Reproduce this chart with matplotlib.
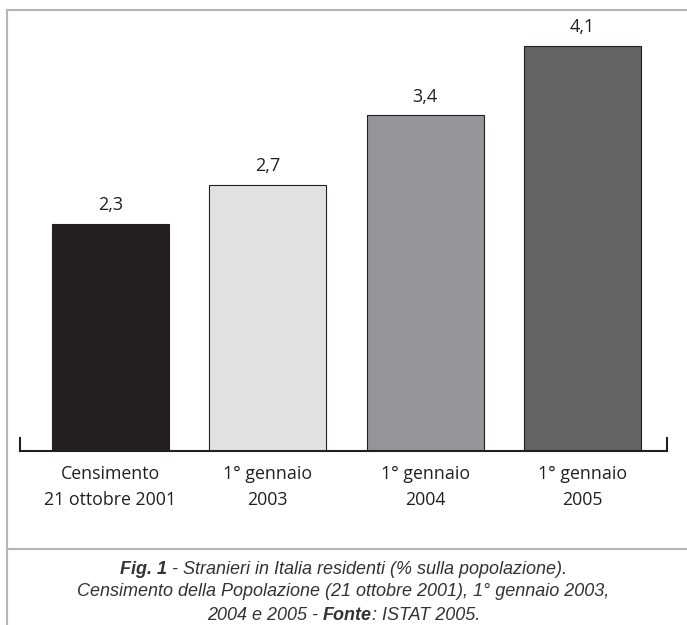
import matplotlib.pyplot as plt
from matplotlib.lines import Line2D

# Stranieri residenti in Italia, % sulla popolazione
categorie = ['Censimento\n21 ottobre 2001', '1° gennaio\n2003', '1° gennaio\n2004', '1° gennaio\n2005']
valori = [2.3, 2.7, 3.4, 4.1]
etichette = ['2,3', '2,7', '3,4', '4,1']
colori = ['#231f20', '#e1e2e3', '#939598', '#636466']

# caption lines as (text, bold) runs
didascalia = [
    [('Fig. 1', True), (' - Stranieri in Italia residenti (% sulla popolazione).', False)],
    [('Censimento della Popolazione (21 ottobre 2001), 1° gennaio 2003,', False)],
    [('2004 e 2005 - ', False), ('Fonte', True), (': ISTAT 2005.', False)],
]

W, H = 687, 625
fig = plt.figure(figsize=(W / 100, H / 100), dpi=100)

# axes placed in pixel terms: baseline at y=451, top at y=10
ax = fig.add_axes([20 / W, (H - 451) / H, 647 / W, 441 / H])
x = range(len(valori))
ax.bar(x, valori, width=0.744, color=colori, edgecolor='#231f20', linewidth=0.8)

for i, (v, t) in enumerate(zip(valori, etichette)):
    ax.text(i, v + 0.1, t, ha='center', va='bottom', fontsize=13,
            family='Open Sans', color='#231f20')

ax.set_xlim(-0.575, 3.538)
ax.set_ylim(0, 4.468)
ax.set_yticks([])
ax.set_xticks(list(x))
ax.set_xticklabels(categorie, family='Open Sans', fontsize=12.8, color='#231f20', linespacing=1.55)
ax.tick_params(axis='x', length=0, pad=10)
ax.spines['top'].set_visible(False)
for s in ['bottom', 'left', 'right']:
    ax.spines[s].set_color('#231f20')
    ax.spines[s].set_linewidth(1.5)
ax.spines['left'].set_bounds(0, 0.13)
ax.spines['right'].set_bounds(0, 0.13)

# gray frame around the figure
grigio = '#b5b5b5'
fig.add_artist(Line2D([7 / W, 1], [1 - 10 / H, 1 - 10 / H], color=grigio, lw=1.5))
fig.add_artist(Line2D([7 / W, 7 / W], [0, 1 - 10 / H], color=grigio, lw=1.5))
fig.add_artist(Line2D([7 / W, 1], [1 - 549 / H, 1 - 549 / H], color=grigio, lw=1.5))

# caption, one line at a time, pieces laid out side by side and centred
renderer = fig.canvas.get_renderer()
for riga, y in zip(didascalia, [569, 592, 615]):
    pezzi = []
    for testo, grassetto in riga:
        t = fig.text(0, 1 - y / H, testo, ha='left', va='center', fontsize=13,
                     family='Liberation Sans', style='italic', color='#333333',
                     weight='bold' if grassetto else 'normal')
        pezzi.append(t)
    larghezze = [p.get_window_extent(renderer).width for p in pezzi]
    x0 = (W - sum(larghezze)) / 2
    for p, w in zip(pezzi, larghezze):
        p.set_x(x0 / W)
        x0 += w

fig.savefig('out.png', dpi=100)
